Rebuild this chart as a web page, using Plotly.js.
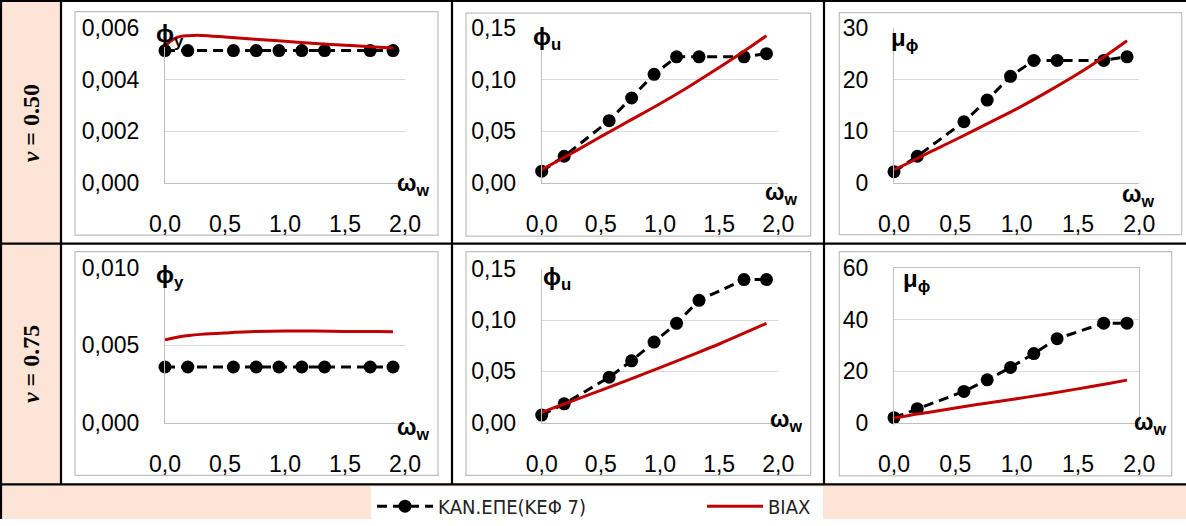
<!DOCTYPE html>
<html>
<head>
<meta charset="utf-8">
<script src="https://cdn.plot.ly/plotly-3.0.1.min.js"></script>
<style>html,body{margin:0;padding:0;background:#fff;}#chart{width:1186px;height:526px;}</style>
</head>
<body>
<div id="chart"></div>
<script>
// ---- data ----
const omegaKan = [0, 0.19, 0.57, 0.76, 0.95, 1.14, 1.33, 1.71, 1.90];
const omegaBiax = [0, 0.1, 0.2, 0.3, 0.5, 0.75, 1.0, 1.25, 1.5, 1.75, 1.9];

// nu = 0.50
const phiY050Kan = [0.00512, 0.00512, 0.00512, 0.00512, 0.00512, 0.00512, 0.00512, 0.00512, 0.00512];
const phiY050Biax = [0.0053, 0.00563, 0.0057, 0.00571, 0.00565, 0.00556, 0.00548, 0.0054, 0.00533, 0.00526, 0.00522];
const phiU050Kan = [0.011, 0.0255, 0.060, 0.082, 0.105, 0.122, 0.122, 0.122, 0.125];
const phiU050Biax = [0.0125, 0.0187, 0.025, 0.0315, 0.0445, 0.0605, 0.0765, 0.0935, 0.1115, 0.1305, 0.1425];
const mu050Kan = [2.1, 5.1, 11.8, 16.0, 20.6, 23.7, 23.7, 23.7, 24.4];
const mu050Biax = [2.5, 3.6, 4.8, 6.0, 8.3, 11.3, 14.3, 17.6, 21.1, 25.0, 27.5];

// nu = 0.75
const phiY075Kan = [0.0036, 0.0036, 0.0036, 0.0036, 0.0036, 0.0036, 0.0036, 0.0036, 0.0036];
const phiY075Biax = [0.00536, 0.00553, 0.00564, 0.00571, 0.0058, 0.00589, 0.00593, 0.00592, 0.0059, 0.00589, 0.00588];
const phiU075Kan = [0.0074, 0.0183, 0.0443, 0.0604, 0.0787, 0.097, 0.1195, 0.1397, 0.1397];
const phiU075Biax = [0.0100, 0.0143, 0.0186, 0.0229, 0.0315, 0.0425, 0.0537, 0.0652, 0.0768, 0.0893, 0.097];
const mu075Kan = [1.9, 5.4, 12.1, 16.6, 21.4, 26.8, 32.6, 38.6, 38.6];
const mu075Biax = [1.8, 2.6, 3.4, 4.1, 5.7, 7.5, 9.3, 11.1, 13.1, 15.2, 16.5];

const seriesNames = ['ΚΑΝ.ΕΠΕ(ΚΕΦ 7)', 'BIAX'];
const rowLabels = ['<i>ν</i> = 0.50', '<i>ν</i> = 0.75'];
const xTickVals = [0, 0.5, 1.0, 1.5, 2.0];

// ---- layout helpers ----
const W = 1186, H = 526;
const X = p => p / W;
const Y = p => 1 - p / H;

const panels = [
  {kan: phiY050Kan, biax: phiY050Biax, ymax: 0.006, dtick: 0.002, fmt: '.3f', lab: 'ϕ<sub>y</sub>',
   px: [165, 405], py: [28.3, 185], box: [75, 11.7, 438, 238.3], labPos: [154, 36], omPos: [395, 187]},
  {kan: phiU050Kan, biax: phiU050Biax, ymax: 0.15, dtick: 0.05, fmt: '.2f', lab: 'ϕ<sub>u</sub>',
   px: [541.7, 778.3], py: [28.3, 185], box: [466, 13.3, 810.7, 239.3], labPos: [531, 39], omPos: [763, 196]},
  {kan: mu050Kan, biax: mu050Biax, ymax: 30, dtick: 10, fmt: 'd', lab: 'μ<sub>ϕ</sub>',
   px: [894, 1139.3], py: [28.3, 185], box: [839.3, 12.7, 1181.7, 237.7], labPos: [889, 40], omPos: [1120, 198]},
  {kan: phiY075Kan, biax: phiY075Biax, ymax: 0.010, dtick: 0.005, fmt: '.3f', lab: 'ϕ<sub>y</sub>',
   px: [165, 405], py: [271.7, 428.3], box: [75, 255, 438, 481.7], labPos: [154, 280], omPos: [395, 434]},
  {kan: phiU075Kan, biax: phiU075Biax, ymax: 0.15, dtick: 0.05, fmt: '.2f', lab: 'ϕ<sub>u</sub>',
   px: [541.7, 778.3], py: [272.7, 428.3], box: [466, 255, 810.7, 481.7], labPos: [541, 282], omPos: [768, 426]},
  {kan: mu075Kan, biax: mu075Biax, ymax: 60, dtick: 20, fmt: 'd', lab: 'μ<sub>ϕ</sub>',
   px: [894, 1139.3], py: [271.7, 428.3], box: [839.3, 255, 1171.7, 482.3], labPos: [901, 284], omPos: [1132, 429], frame: true}
];

const tickFont = {family: 'Liberation Sans, Arial, sans-serif', size: 23, color: '#000'};
const legFont = {family: 'DejaVu Sans Condensed, Liberation Sans Narrow, sans-serif', size: 20, color: '#222'};
const traces = [];
const layout = {
  width: W, height: H,
  margin: {l: 0, r: 0, t: 0, b: 0},
  paper_bgcolor: '#ffffff',
  plot_bgcolor: 'rgba(0,0,0,0)',
  separators: ',.',
  showlegend: true,
  shapes: [], annotations: [],
  legend: {x: X(372), xanchor: 'left', y: Y(513), yanchor: 'middle', orientation: 'h',
           bgcolor: 'rgba(0,0,0,0)', itemwidth: 56, traceorder: 'normal', font: legFont},
  legend2: {x: X(702), xanchor: 'left', y: Y(513), yanchor: 'middle', orientation: 'h',
           bgcolor: 'rgba(0,0,0,0)', itemwidth: 56, font: legFont}
};

// table background and borders
const bg = '#FCE4D6';
layout.shapes.push(
  {type: 'rect', xref: 'paper', yref: 'paper', layer: 'below', x0: X(0), x1: X(61), y0: Y(491), y1: Y(0), fillcolor: bg, line: {width: 0}},
  {type: 'rect', xref: 'paper', yref: 'paper', layer: 'below', x0: X(0), x1: X(W), y0: Y(H), y1: Y(491), fillcolor: bg, line: {width: 0}},
  {type: 'rect', xref: 'paper', yref: 'paper', layer: 'below', x0: X(371), x1: X(823), y0: Y(H), y1: Y(493), fillcolor: '#ffffff', line: {width: 0}}
);
const blk = {color: '#000', width: 2.2};
[[0, 1, W, 1], [0, 247, W, 247], [0, 491, W, 491]].forEach(s =>
  layout.shapes.push({type: 'line', xref: 'paper', yref: 'paper', x0: X(s[0]), x1: X(s[2]), y0: Y(s[1]), y1: Y(s[3]), line: blk}));
[[1, 0, 1, H], [61, 0, 61, 491], [452, 0, 452, 491], [824, 0, 824, 491]].forEach(s =>
  layout.shapes.push({type: 'line', xref: 'paper', yref: 'paper', x0: X(s[0]), x1: X(s[2]), y0: Y(s[1]), y1: Y(s[3]), line: blk}));

// row labels
rowLabels.forEach((t, i) => layout.annotations.push({
  xref: 'paper', yref: 'paper', x: X(31), y: Y(i === 0 ? 125 : 369), text: '<b>' + t + '</b>',
  textangle: -90, showarrow: false, xanchor: 'center', yanchor: 'middle',
  font: {family: 'Liberation Serif, Times New Roman, serif', size: 24, color: '#000'}
}));

panels.forEach((p, i) => {
  const n = i === 0 ? '' : String(i + 1);
  const xa = 'x' + n, ya = 'y' + n;
  layout['xaxis' + n] = {
    domain: [X(p.px[0]), X(p.px[1])], anchor: ya, range: [0, 2], tickvals: xTickVals, tickformat: '.1f',
    showgrid: false, zeroline: false, showline: true, linecolor: '#BFBFBF', linewidth: 1,
    mirror: p.frame ? true : false, ticks: '', ticklabelstandoff: 21, tickfont: tickFont, fixedrange: true
  };
  layout['yaxis' + n] = {
    domain: [Y(p.py[1]), Y(p.py[0])], anchor: xa, range: [0, p.ymax], dtick: p.dtick, tick0: 0, tickformat: p.fmt,
    showgrid: true, gridcolor: '#D9D9D9', gridwidth: 1, zeroline: false, showline: true, linecolor: '#BFBFBF', linewidth: 1,
    mirror: p.frame ? true : false, ticks: '', ticklabelstandoff: 20, tickfont: tickFont, fixedrange: true
  };
  // chart-area frame
  layout.shapes.push({type: 'rect', xref: 'paper', yref: 'paper', layer: 'below',
    x0: X(p.box[0]), x1: X(p.box[2]), y0: Y(p.box[3]), y1: Y(p.box[1]), line: {color: '#BFBFBF', width: 1.2}, fillcolor: 'rgba(0,0,0,0)'});
  // axis labels
  layout.annotations.push({xref: 'paper', yref: 'paper', x: X(p.labPos[0]), y: Y(p.labPos[1]), xanchor: 'left', yanchor: 'middle',
    text: '<b>' + p.lab + '</b>', showarrow: false, font: {family: 'Liberation Sans, Arial, sans-serif', size: 24, color: '#000'}});
  layout.annotations.push({xref: 'paper', yref: 'paper', x: X(p.omPos[0]), y: Y(p.omPos[1]), xanchor: 'left', yanchor: 'middle',
    text: '<b>ω<sub>w</sub></b>', showarrow: false, font: {family: 'Liberation Sans, Arial, sans-serif', size: 23, color: '#000'}});

  traces.push({
    x: omegaKan, y: p.kan, xaxis: xa, yaxis: ya, type: 'scatter', mode: 'lines+markers', name: seriesNames[0],
    showlegend: i === 0, legend: 'legend', cliponaxis: false,
    line: {color: '#000', width: 3, dash: '10px,6px'}, marker: {color: '#000', size: 13, symbol: 'circle'}
  });
  traces.push({
    x: omegaBiax, y: p.biax, xaxis: xa, yaxis: ya, type: 'scatter', mode: 'lines', name: seriesNames[1],
    showlegend: i === 0, legend: 'legend2', cliponaxis: false,
    line: {color: '#C00000', width: 3, shape: 'spline', smoothing: 1}
  });
});

Plotly.newPlot('chart', traces, layout, {staticPlot: true, displayModeBar: false});
</script>
</body>
</html>
